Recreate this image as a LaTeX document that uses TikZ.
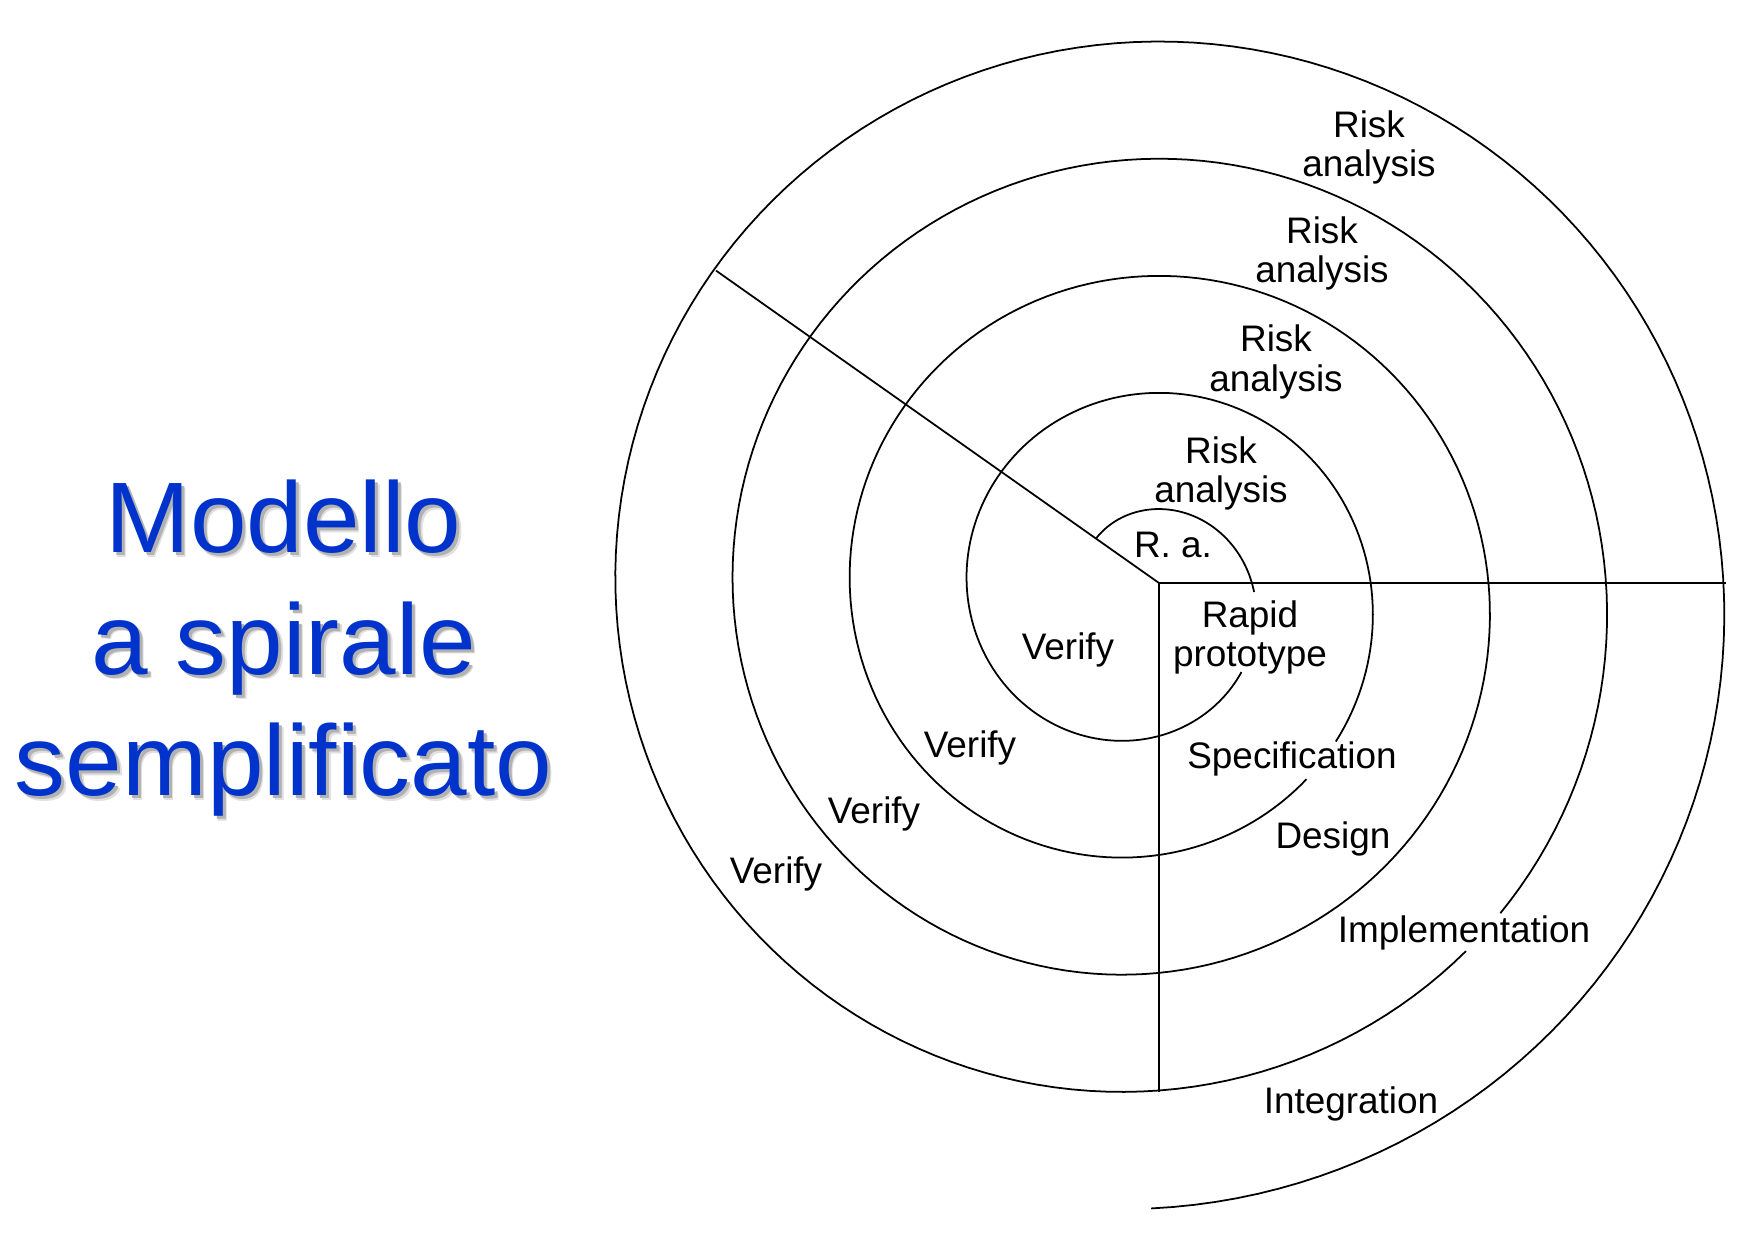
\documentclass[tikz,border=0pt]{standalone}
\usepackage{fontspec}
\setmainfont{Liberation Sans}
\newfontfamily\titlefont[FakeStretch=1.015]{Liberation Sans}
\definecolor{titleblue}{RGB}{0,51,204}
\begin{document}
\begin{tikzpicture}[x=0.01cm,y=-0.01cm,
  spiral/.style={line width=0.5pt, black, line join=round},
  axisline/.style={line width=0.5pt, black},
  lbl/.style={font=\fontsize{10.5}{11.2}\selectfont, inner sep=0pt, align=center, text=black},
  ttl/.style={font=\titlefont\fontsize{28.5}{34.6}\selectfont, inner sep=0pt, align=center}]
\useasboundingbox[fill=white] (0,0) rectangle (1751,1251);
\def\SX{1140.5}
\def\SY{596}
% axes
\coordinate (O) at (1159,583);
\coordinate (E) at (1726,583);
\coordinate (S) at (1159,1092);
\coordinate (W) at (716,270.6);
\draw[axisline] (O) -- (E);
\draw[axisline] (O) -- (S);
\draw[axisline] (O) -- (W);
% spiral segments
\draw[spiral] plot[domain=-38:88, samples=70, variable=\t]
  ({\SX+(85+0.32583*\t)*sin(\t)}, {\SY-(85+0.32583*\t)*cos(\t)});
\draw[spiral] plot[domain=127:486.7, samples=180, variable=\t]
  ({\SX+(85+0.32583*\t)*sin(\t)}, {\SY-(85+0.32583*\t)*cos(\t)});
\draw[spiral] plot[domain=497.8:1211.4, samples=360, variable=\t]
  ({\SX+(85+0.32583*\t)*sin(\t)}, {\SY-(85+0.32583*\t)*cos(\t)});
\draw[spiral] plot[domain=1217.5:1619, samples=200, variable=\t]
  ({\SX+(85+0.32583*\t)*sin(\t)}, {\SY-(85+0.32583*\t)*cos(\t)});
% labels
\node[lbl] (ra1) at (1369,147.3) {Risk\\analysis};
\node[lbl] (ra2) at (1322,253.5) {Risk\\analysis};
\node[lbl] (ra3) at (1276,362) {Risk\\analysis};
\node[lbl] (ra4) at (1221,473.5) {Risk\\analysis};
\node[lbl, anchor=base] (ra5) at (1173,557) {R. a.};
\node[lbl] (proto) at (1250,637.5) {Rapid\\prototype};
\node[lbl, anchor=base] (spec) at (1292,768) {Specification};
\node[lbl, anchor=base] (design) at (1333,848) {Design};
\node[lbl, anchor=base] (impl) at (1464,942) {Implementation};
\node[lbl, anchor=base] (integ) at (1351,1113) {Integration};
\node[lbl, anchor=base] (v1) at (1068,659) {Verify};
\node[lbl, anchor=base] (v2) at (970,757) {Verify};
\node[lbl, anchor=base] (v3) at (874,823) {Verify};
\node[lbl, anchor=base] (v4) at (776,883) {Verify};
% title with shadow
\node[ttl, text=black!12] (tshadowb) at (288,652.8) {Modello\\a spirale\\semplificato};
\node[ttl, text=black!30] (tshadowa) at (286.5,651.3) {Modello\\a spirale\\semplificato};
\node[ttl, text=titleblue] (title) at (283.5,648.3) {Modello\\a spirale\\semplificato};
\end{tikzpicture}
\end{document}
